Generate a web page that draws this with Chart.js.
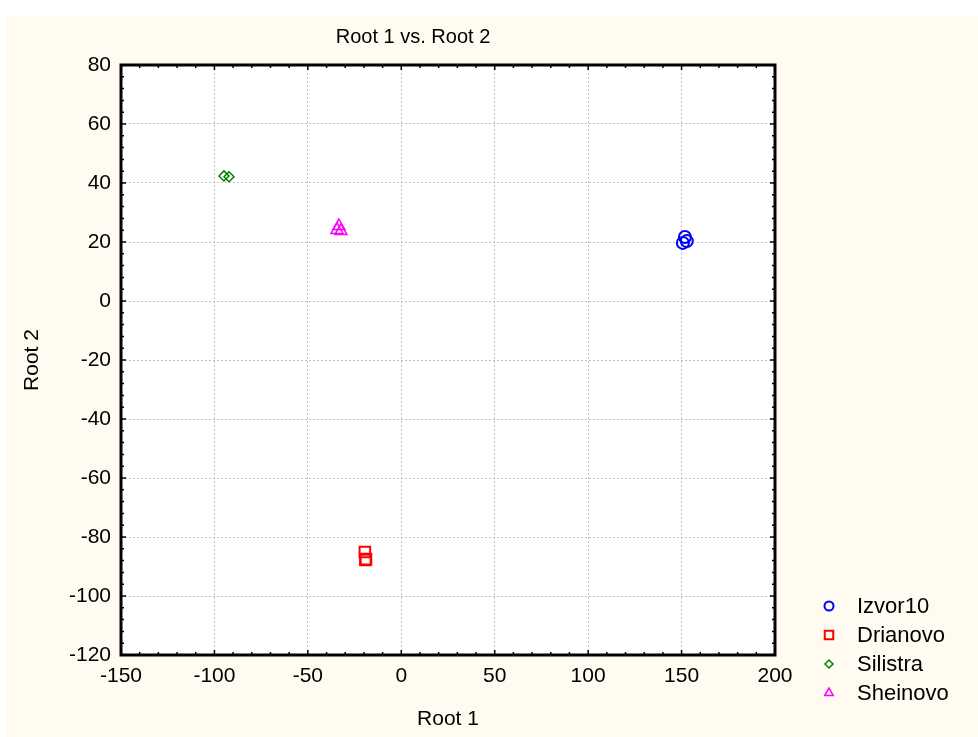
<!DOCTYPE html>
<html>
<head>
<meta charset="utf-8">
<title>Root 1 vs. Root 2</title>
<script src="https://cdn.jsdelivr.net/npm/chart.js@4.4.1/dist/chart.umd.min.js"></script>
<style>
    html, body {
        margin: 0;
        padding: 0;
        background: #ffffff;
    }
    .page {
        position: relative;
        width: 978px;
        height: 737px;
        overflow: hidden;
    }
    .paper {
        position: absolute;
        left: 7px;
        top: 16px;
        right: 0;
        bottom: 0;
        background: #fffbf0;
    }
    #chart {
        position: absolute;
        left: 0;
        top: 0;
    }
</style>
</head>
<body>
<div class="page">
    <div class="paper"></div>
    <canvas id="chart" width="978" height="737"></canvas>
</div>
<script>
// Axis ranges / tick labels
const xTicks = [-150, -100, -50, 0, 50, 100, 150, 200];
const yTicks = [-120, -100, -80, -60, -40, -20, 0, 20, 40, 60, 80];

// Group names
const groups = ['Izvor10', 'Drianovo', 'Silistra', 'Sheinovo'];

// Root 1 / Root 2 scores per group
const izvorRoot1 = [150.7, 151.8, 152.8];
const izvorRoot2 = [19.7, 21.7, 20.3];

const drianovoRoot1 = [-19.5, -18.9, -19.2];
const drianovoRoot2 = [-85.1, -87.5, -87.8];

const silistraRoot1 = [-94.9, -92.2];
const silistraRoot2 = [42.4, 42.1];

const sheinovoRoot1 = [-33.4, -32.3, -34.4];
const sheinovoRoot2 = [25.4, 23.7, 24.1];

const FONT = '"Liberation Sans", Arial, sans-serif';

function toPoints(xs, ys) {
    return xs.map((x, i) => ({ x: x, y: ys[i] }));
}

// legendRadius is only used for the hand drawn legend markers
const datasets = [
    {
        label: groups[0],
        data: toPoints(izvorRoot1, izvorRoot2),
        pointStyle: 'circle',
        pointRadius: 6,
        legendRadius: 4.5,
        borderColor: '#0000ff',
        borderWidth: 2
    },
    {
        label: groups[1],
        data: toPoints(drianovoRoot1, drianovoRoot2),
        pointStyle: 'rect',
        pointRadius: 7.5,
        legendRadius: 6,
        borderColor: '#ff0000',
        borderWidth: 2
    },
    {
        label: groups[2],
        data: toPoints(silistraRoot1, silistraRoot2),
        pointStyle: 'rectRot',
        pointRadius: 5,
        legendRadius: 4,
        borderColor: '#008000',
        borderWidth: 1.5
    },
    {
        label: groups[3],
        data: toPoints(sheinovoRoot1, sheinovoRoot2),
        pointStyle: 'triangle',
        pointRadius: 7,
        legendRadius: 5,
        borderColor: '#ff00ff',
        borderWidth: 1.5
    }
].map(ds => Object.assign({ backgroundColor: 'rgba(0,0,0,0)', pointHoverRadius: ds.pointRadius }, ds));

/**
 * Frame, inward tick marks, title and legend
 */
const framePlugin = {
    id: 'frame',
    afterDraw(chart) {
        const ctx = chart.ctx;
        const area = chart.chartArea;
        const xs = chart.scales.x;
        const ys = chart.scales.y;

        ctx.save();
        ctx.strokeStyle = '#000';

        // Minor + major ticks pointing inward on all four sides
        ctx.lineWidth = 1.5;
        ctx.beginPath();
        for (let v = xs.min; v <= xs.max; v += 10) {
            const px = xs.getPixelForValue(v);
            const len = (v % 50 === 0) ? 5 : 3;
            ctx.moveTo(px, area.bottom);
            ctx.lineTo(px, area.bottom - len);
            ctx.moveTo(px, area.top);
            ctx.lineTo(px, area.top + len);
        }
        for (let v = ys.min; v <= ys.max; v += 4) {
            const py = ys.getPixelForValue(v);
            const len = (v % 20 === 0) ? 5 : 3;
            ctx.moveTo(area.left, py);
            ctx.lineTo(area.left + len, py);
            ctx.moveTo(area.right, py);
            ctx.lineTo(area.right - len, py);
        }
        ctx.stroke();

        // Thick frame
        ctx.lineWidth = 3;
        ctx.strokeRect(area.left, area.top, area.right - area.left, area.bottom - area.top);

        // Title
        ctx.fillStyle = '#000';
        ctx.font = '20px ' + FONT;
        ctx.textAlign = 'center';
        ctx.textBaseline = 'middle';
        ctx.fillText('Root 1 vs. Root 2', 413, 37);

        // Legend
        ctx.font = '22px ' + FONT;
        ctx.textAlign = 'left';
        chart.data.datasets.forEach((ds, i) => {
            const y = 606 + i * 29;
            ctx.strokeStyle = ds.borderColor;
            ctx.fillStyle = 'rgba(0,0,0,0)';
            ctx.lineWidth = ds.borderWidth;
            Chart.helpers.drawPoint(ctx, {
                pointStyle: ds.pointStyle,
                radius: ds.legendRadius,
                borderWidth: ds.borderWidth
            }, 829, y);
            ctx.fillStyle = '#000';
            ctx.fillText(ds.label, 857, y + 1);
        });

        ctx.restore();
    }
};

const gridStyle = {
    color: '#c0c0c0',
    lineWidth: 1,
    drawTicks: false
};

new Chart(document.getElementById('chart'), {
    type: 'scatter',
    data: { datasets: datasets },
    options: {
        responsive: false,
        animation: false,
        layout: {
            padding: { top: 65, right: 203, left: 0, bottom: 0 }
        },
        plugins: {
            legend: { display: false },
            title: { display: false },
            tooltip: { enabled: false }
        },
        scales: {
            x: {
                type: 'linear',
                min: xTicks[0],
                max: xTicks[xTicks.length - 1],
                afterBuildTicks: (scale) => { scale.ticks = xTicks.map(v => ({ value: v })); },
                afterFit: (scale) => { scale.height = 82; },
                grid: gridStyle,
                border: { display: false, dash: [2, 2] },
                ticks: {
                    padding: 9,
                    color: '#000',
                    font: { family: FONT, size: 21 }
                },
                title: {
                    display: true,
                    text: 'Root 1',
                    color: '#000',
                    padding: 5,
                    font: { family: FONT, size: 21 }
                }
            },
            y: {
                type: 'linear',
                min: yTicks[0],
                max: yTicks[yTicks.length - 1],
                afterBuildTicks: (scale) => { scale.ticks = yTicks.map(v => ({ value: v })); },
                afterFit: (scale) => { scale.width = 121; },
                grid: gridStyle,
                border: { display: false, dash: [2, 2] },
                ticks: {
                    padding: 10,
                    color: '#000',
                    font: { family: FONT, size: 21 }
                },
                title: {
                    display: true,
                    text: 'Root 2',
                    color: '#000',
                    padding: 20,
                    font: { family: FONT, size: 21 }
                }
            }
        }
    },
    plugins: [{
        id: 'plotBackground',
        beforeDraw(chart) {
            const a = chart.chartArea;
            chart.ctx.save();
            chart.ctx.fillStyle = '#ffffff';
            chart.ctx.fillRect(a.left, a.top, a.right - a.left, a.bottom - a.top);
            chart.ctx.restore();
        }
    }, framePlugin]
});
</script>
</body>
</html>
